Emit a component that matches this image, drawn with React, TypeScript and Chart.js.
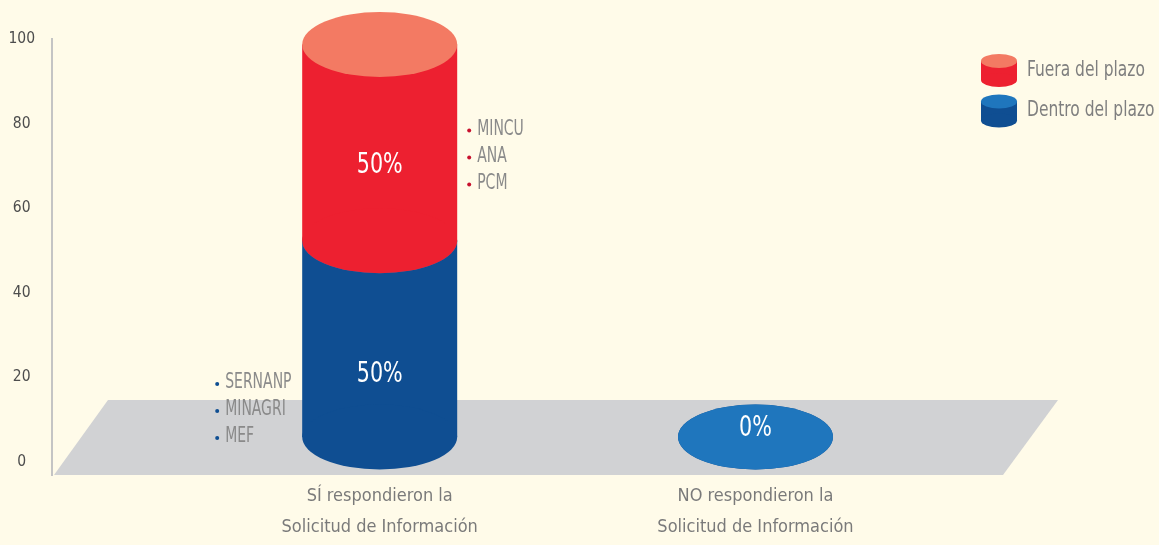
import React, { useEffect, useRef } from 'react';
import { Chart, registerables } from 'chart.js';

Chart.register(...registerables);

// ---------- data ----------
const categories: string[][] = [
  ['SÍ respondieron la', 'Solicitud de Información'],
  ['NO respondieron la', 'Solicitud de Información'],
];
const dentroValues = [50, 0];
const fueraValues = [50, 0];
const seriesLabels = ['Dentro del plazo', 'Fuera del plazo'];
const yTicks = [0, 20, 40, 60, 80, 100];
const dentroEntities = ['SERNANP', 'MINAGRI', 'MEF'];
const fueraEntities = ['MINCU', 'ANA', 'PCM'];

const FONT = "'Liberation Sans Narrow', 'DejaVu Sans Condensed', 'Arial Narrow', sans-serif";
const BG = '#FFFBE9';

function ellipse(ctx: CanvasRenderingContext2D, x: number, y: number, rx: number, ry: number, color: string) {
  ctx.beginPath();
  ctx.ellipse(x, y, rx, ry, 0, 0, Math.PI * 2);
  ctx.fillStyle = color;
  ctx.fill();
}

// condensed text (the original uses a condensed typeface)
function drawText(ctx: CanvasRenderingContext2D, text: string, x: number, y: number, align: CanvasTextAlign, sx: number) {
  ctx.save();
  ctx.translate(x, y);
  ctx.scale(sx, 1);
  ctx.textAlign = align;
  ctx.textBaseline = 'middle';
  ctx.fillText(text, 0, 0);
  ctx.restore();
}

const cylinderPlugin = {
  id: 'cylinders',
  beforeDraw(chart: any) {
    const ctx = chart.ctx;
    ctx.save();
    ctx.fillStyle = BG;
    ctx.fillRect(0, 0, chart.width, chart.height);
    ctx.restore();
  },
  beforeDatasetsDraw(chart: any) {
    const { ctx, chartArea } = chart;
    const b = chartArea.bottom;
    const t = b - 75;
    ctx.save();
    ctx.beginPath();
    ctx.moveTo(chartArea.left + 2, b);
    ctx.lineTo(chartArea.left + 56, t);
    ctx.lineTo(chartArea.right, t);
    ctx.lineTo(chartArea.right - 55, b);
    ctx.closePath();
    ctx.fillStyle = '#D1D2D4';
    ctx.fill();
    ctx.restore();
  },
  beforeDatasetDraw() {
    return false;
  },
  afterDatasetsDraw(chart: any) {
    const ctx: CanvasRenderingContext2D = chart.ctx;
    const datasets = chart.data.datasets;
    ctx.save();
    for (let j = 0; j < categories.length; j++) {
      const total = datasets.reduce((s: number, d: any) => s + d.data[j].y, 0);
      const labels: { text: string; x: number; y: number }[] = [];
      for (let i = 0; i < datasets.length; i++) {
        const ds = datasets[i];
        const v = ds.data[j].y;
        if (v <= 0 && !(i === 0 && total === 0)) continue;
        const el = chart.getDatasetMeta(i).data[j];
        const { x, y, base, width } = el.getProps(['x', 'y', 'base', 'width'], true);
        const rx = width / 2;
        const ry = width * 0.21;
        ctx.fillStyle = ds.backgroundColor;
        ctx.fillRect(x - rx, y, width, base - y);
        ellipse(ctx, x, base, rx, ry, ds.backgroundColor);
        ellipse(ctx, x, y, rx, ry, ds.topColor);
        labels.push({
          text: `${v}%`,
          x,
          y: v > 0 ? (y + base) / 2 + ds.labelOffset : base - 8,
        });
        // entity lists
        if (v > 0 && ds.entities) {
          ctx.font = `21px ${FONT}`;
          const n = ds.entities.length;
          ds.entities.forEach((name: string, k: number) => {
            let tx: number, ty: number;
            if (ds.entitySide === 'right') {
              tx = x + rx + 20;
              ty = y + 85 + k * 27;
            } else {
              tx = x - rx - 77;
              ty = base - (n - 1 - k) * 27;
            }
            ctx.beginPath();
            ctx.arc(tx - 8, ty + 1, 2, 0, Math.PI * 2);
            ctx.fillStyle = ds.bulletColor;
            ctx.fill();
            ctx.fillStyle = '#8A8A8A';
            drawText(ctx, name, tx, ty, 'left', 0.74);
          });
        }
      }
      ctx.font = `28px ${FONT}`;
      ctx.fillStyle = '#FFFFFF';
      labels.forEach((l) => drawText(ctx, l.text, l.x, l.y, 'center', 0.82));
    }
    ctx.restore();
  },
  afterDraw(chart: any) {
    const ctx: CanvasRenderingContext2D = chart.ctx;
    const { chartArea } = chart;
    const items = chart.data.datasets.slice().reverse();
    const left = chartArea.right - 77;
    ctx.save();
    items.forEach((ds: any, k: number) => {
      const cy = chartArea.top + 31.5 + k * 40.5;
      const cx = left + 18;
      ctx.fillStyle = ds.backgroundColor;
      ctx.fillRect(cx - 18, cy - 9.5, 36, 19);
      ellipse(ctx, cx, cy + 9.5, 18, 7, ds.backgroundColor);
      ellipse(ctx, cx, cy - 9.5, 18, 7, ds.topColor);
      ctx.font = `20.5px ${FONT}`;
      ctx.fillStyle = '#7F7F7F';
      drawText(ctx, ds.label, left + 46, cy, 'left', 0.84);
    });
    ctx.restore();
  },
};

export default function App() {
  const canvasRef = useRef<HTMLCanvasElement | null>(null);

  useEffect(() => {
    if (!canvasRef.current) return;
    const chart = new Chart(canvasRef.current, {
      type: 'bar',
      data: {
        datasets: [
          {
            label: seriesLabels[0],
            data: dentroValues.map((v, i) => ({ x: i + 1, y: v })),
            backgroundColor: '#0F4E92',
            topColor: '#1F76BD',
            bulletColor: '#0F4E92',
            entities: dentroEntities,
            entitySide: 'left',
            labelOffset: 36,
            yAxisID: 'y2',
            barThickness: 155,
          } as any,
          {
            label: seriesLabels[1],
            data: fueraValues.map((v, i) => ({ x: i + 1, y: v })),
            backgroundColor: '#ED2030',
            topColor: '#F37A63',
            bulletColor: '#C8102E',
            entities: fueraEntities,
            entitySide: 'right',
            labelOffset: 23,
            yAxisID: 'y2',
            barThickness: 155,
          } as any,
        ],
      },
      options: {
        responsive: false,
        animation: false,
        devicePixelRatio: 1,
        layout: { padding: { top: 39, right: 101, left: 0, bottom: 0 } },
        plugins: {
          legend: { display: false },
          tooltip: { enabled: false },
        },
        scales: {
          x: {
            type: 'linear',
            position: 'bottom',
            min: 0.128,
            max: 2.805,
            offset: false,
            stacked: true,
            grid: { display: false, drawTicks: false },
            border: { display: false },
            afterBuildTicks: (s: any) => {
              s.ticks = categories.map((_, i) => ({ value: i + 1 }));
            },
            afterFit: (s: any) => {
              s.height = 70;
            },
            ticks: {
              autoSkip: false,
              maxRotation: 0,
              padding: 6,
              color: '#7A7A7A',
              font: { size: 18, family: FONT, lineHeight: 31 / 18 },
              callback: (val: any) => categories[Math.round(Number(val)) - 1] ?? '',
            },
          },
          y: {
            type: 'linear',
            position: 'left',
            min: -3.07,
            max: 100,
            grid: { display: false, drawTicks: false },
            border: { display: true, color: '#C4C4C4', width: 2 },
            afterBuildTicks: (s: any) => {
              s.ticks = yTicks.map((v) => ({ value: v }));
            },
            afterFit: (s: any) => {
              s.width = 52;
            },
            ticks: {
              padding: 17,
              crossAlign: 'center',
              color: '#4D4D4D',
              font: { size: 15.5, family: FONT },
              callback: (v: any) => `${v}`,
            },
          },
          y2: {
            type: 'linear',
            display: false,
            stacked: true,
            min: -9.68,
            max: 101.4,
          },
        },
      } as any,
      plugins: [cylinderPlugin as any],
    });
    return () => chart.destroy();
  }, []);

  return (
    <div style={{ position: 'fixed', left: 0, top: 0, width: 1159, height: 545, background: BG }}>
      <canvas ref={canvasRef} width={1159} height={545} />
    </div>
  );
}
